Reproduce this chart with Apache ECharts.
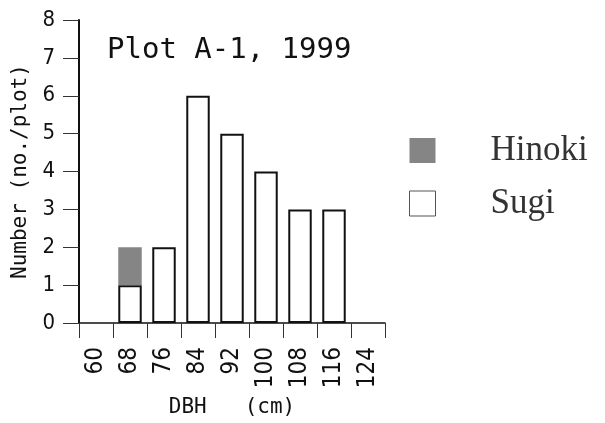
<!DOCTYPE html>
<html>
<head>
<meta charset="utf-8">
<script src="https://cdn.jsdelivr.net/npm/echarts@6/dist/echarts.min.js"></script>
<style>
html,body{margin:0;padding:0;background:#fff;}
#chart{width:605px;height:423px;}
</style>
</head>
<body>
<div id="chart"></div>
<script>
const categories = ['60', '68', '76', '84', '92', '100', '108', '116', '124'];
const sugi = [0, 1, 2, 6, 5, 4, 3, 3, 0];
const hinoki = [0, 1, 0, 0, 0, 0, 0, 0, 0];
const yTicks = [0, 1, 2, 3, 4, 5, 6, 7, 8];
const titleText = 'Plot A-1, 1999';
const xName = 'DBH   (cm)';
const yName = 'Number (no./plot)';

const narrow = "'Liberation Sans Narrow', 'DejaVu Sans Condensed', sans-serif";
const mono = "'DejaVu Sans Mono', monospace";
// zero counts draw no bar
const toBar = arr => arr.map(v => (v === 0 ? '-' : v));

const chart = echarts.init(document.getElementById('chart'), null, {renderer: 'canvas'});
chart.setOption({
  animation: false,
  backgroundColor: '#ffffff',
  title: {
    text: titleText,
    left: 107, top: 36,
    padding: 0,
    textStyle: {fontFamily: mono, fontSize: 29, fontWeight: 'normal', color: '#111'}
  },
  legend: {
    orient: 'vertical',
    left: 409, top: 133,
    itemWidth: 26, itemHeight: 25, itemGap: 18,
    padding: 0,
    selectedMode: false,
    data: [
      {name: 'Hinoki', icon: 'rect', itemStyle: {color: '#858585', borderWidth: 0}},
      {name: 'Sugi', icon: 'rect', itemStyle: {color: '#ffffff', borderColor: '#555', borderWidth: 1}}
    ],
    textStyle: {fontFamily: "'Liberation Serif', serif", fontSize: 35, color: '#333', padding: [0, 0, 0, 50]}
  },
  grid: {left: 79, top: 20, width: 306, height: 304, containLabel: false},
  xAxis: {
    type: 'category',
    data: categories,
    boundaryGap: true,
    name: xName,
    nameLocation: 'middle',
    nameGap: 74,
    nameTextStyle: {fontFamily: mono, fontSize: 21, color: '#111'},
    axisLine: {show: true, lineStyle: {color: '#111', width: 1.5}},
    axisTick: {show: true, inside: false, length: 15, interval: 0, alignWithLabel: false, lineStyle: {color: '#333', width: 1}},
    axisLabel: {interval: 0, rotate: 90, margin: 24, fontFamily: narrow, fontSize: 24, color: '#111'},
    splitLine: {show: false}
  },
  yAxis: {
    type: 'value',
    min: yTicks[0], max: yTicks[yTicks.length - 1], interval: 1,
    name: yName,
    nameLocation: 'middle',
    nameGap: 44,
    nameRotate: 90,
    nameTextStyle: {fontFamily: mono, fontSize: 21, color: '#111'},
    axisLine: {show: true, lineStyle: {color: '#111', width: 2}},
    axisTick: {show: true, inside: false, length: 16, lineStyle: {color: '#333', width: 1}},
    axisLabel: {margin: 24, fontFamily: narrow, fontSize: 22, color: '#111'},
    splitLine: {show: false}
  },
  series: [
    {
      name: 'Sugi', type: 'bar', stack: 'n', data: toBar(sugi),
      barWidth: '69%',
      itemStyle: {color: '#ffffff', borderColor: '#111', borderWidth: 2}
    },
    {
      name: 'Hinoki', type: 'bar', stack: 'n', data: toBar(hinoki),
      barWidth: '69%',
      itemStyle: {color: '#858585', borderWidth: 0}
    }
  ]
});
</script>
</body>
</html>
